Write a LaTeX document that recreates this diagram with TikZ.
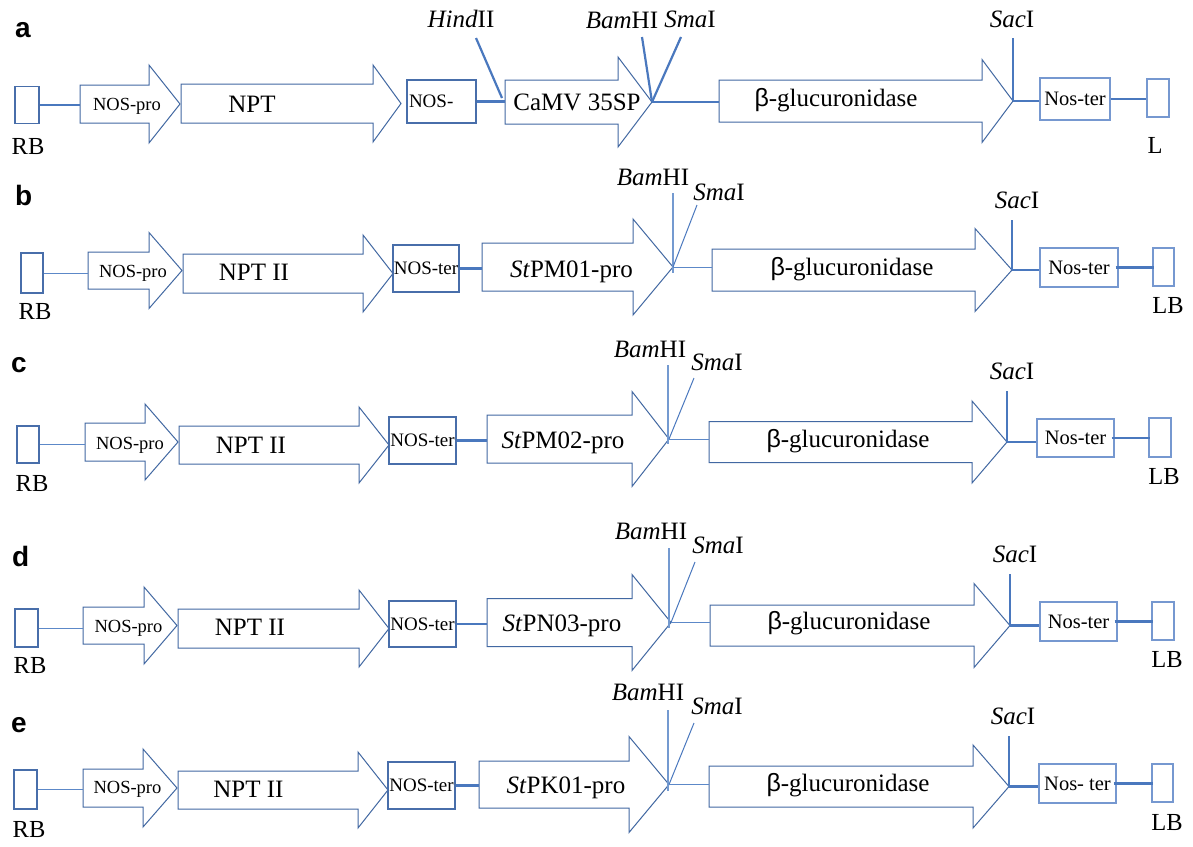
\documentclass[tikz,border=0pt]{standalone}
\usepackage{fontspec}
\setmainfont{Liberation Serif}
\newfontfamily\sansf{Liberation Sans}
\usetikzlibrary{calc}
\definecolor{arrc}{RGB}{66,104,162}
\definecolor{dboxc}{RGB}{72,110,170}
\definecolor{lboxc}{RGB}{118,152,208}
\definecolor{linec}{RGB}{74,120,190}
\definecolor{thinc}{RGB}{92,136,200}
\newcommand\garrow[7]{%
  \draw[arr] (#2,#5-#6) -- (#3,#5-#6) -- (#3,#5-#7) -- (#4,#5) -- (#3,#5+#7) -- (#3,#5+#6) -- (#2,#5+#6) -- cycle;
  \coordinate (#1-w) at (#2,#5);
  \coordinate (#1-tip) at (#4,#5);}
\tikzset{
  arr/.style={draw=arrc, line width=1pt, line join=miter},
  dbox/.style={draw=dboxc, line width=1.1pt, rectangle, inner sep=0pt},
  lbox/.style={draw=lboxc, line width=1.4pt, rectangle, inner sep=0pt},
  thickln/.style={draw=linec, line width=2.2pt},
  thinln/.style={draw=thinc, line width=1pt},
  bamln/.style={draw=thinc!85!white, line width=1.3pt},
  smaln/.style={draw=linec, line width=1pt},
  sacln/.style={draw=linec, line width=1.5pt},
  big/.style={font=\fontsize{25}{29}\selectfont, inner sep=0pt, anchor=base},
  small/.style={font=\fontsize{18.5}{22}\selectfont, inner sep=0pt, anchor=base},
  site/.style={font=\fontsize{25}{29}\selectfont, inner sep=0pt, anchor=base},
  lbl/.style={font=\fontsize{24.5}{28}\selectfont, inner sep=0pt, anchor=base},
  lab/.style={font=\sansf\bfseries\fontsize{28}{32}\selectfont, inner sep=0pt, anchor=base west},
  nosf/.style={font=\fontsize{19}{22}\selectfont},
  nostf/.style={font=\fontsize{20.5}{24}\selectfont},
}
\begin{document}
\begin{tikzpicture}[x=1pt,y=-1pt]
\useasboundingbox (0,0) rectangle (1193,846);
\fill[white] (0,0) rectangle (1193,846);

% ---------------- row a ----------------
\node[lab] (a-lab) at (15,37) {a};
\node[dbox, minimum width=24pt, minimum height=37pt] (a-rb) at (27,105) {};
\node[lbl] (a-rbt) at (28,154) {RB};
\garrow{a-np}{80}{149}{180}{104}{19}{39}
\node[small] (a-npt) at (127,110) {NOS-pro};
\draw[thickln] (a-rb.east) -- (a-rb.east -| a-np-w);
\garrow{a-npt2}{181}{373}{401}{103.5}{19.5}{38.5}
\node[big] (a-nptt) at (252,112) {NPT};
\node[dbox, nosf, minimum width=69pt, minimum height=43pt, text width=65pt, align=left, inner xsep=2pt] (a-nos1) at (441.5,101.5) {NOS-};
\garrow{a-cam}{505}{618}{652}{102}{22}{45}
\draw[thickln] (a-nos1.east) -- (a-nos1.east -| a-cam-w);
\node[big] (a-camt) at (577,110) {CaMV 35SP};
\coordinate (a-hind) at (476,38);
\draw[thickln] (a-hind) -- ($(a-cam-w)+(-3,-4)$);
\node[site] (a-hindt) at (461,27) {\textit{Hind}II};
\coordinate (a-bam) at (642,37);
\coordinate (a-sma) at (681,37);
\draw[thickln] (a-bam) -- (a-cam-tip);
\draw[thickln] (a-sma) -- (a-cam-tip);
\node[site] (a-bamt) at (622,28) {\textit{Bam}HI};
\node[site] (a-smat) at (690,27) {\textit{Sma}I};
\garrow{a-gus}{719}{982}{1013}{101}{21}{41.5}
\draw[thickln] (a-cam-tip) -- (a-cam-tip -| a-gus-w);
\node[big] (a-gust) at (836,106) {{\sansf β}-glucuronidase};
\coordinate (a-sac) at (1013,38);
\draw[thickln] (a-sac) -- (a-gus-tip);
\node[site] (a-sact) at (1012,27) {\textit{Sac}I};
\node[lbox, nostf, minimum width=70pt, minimum height=42pt] (a-nos2) at (1075,99) {Nos-ter};
\draw[thickln] (a-gus-tip) -- (a-gus-tip -| a-nos2.west);
\node[lbox, minimum width=22pt, minimum height=38pt] (a-lb) at (1158,98) {};
\draw[thickln] (a-nos2.east) -- (a-nos2.east -| a-lb.west);
\node[lbl] (a-lbt) at (1155,153) {L};

% ---------------- row b ----------------
\node[lab] (b-lab) at (15,205) {b};
\node[dbox, minimum width=22pt, minimum height=40pt] (b-rb) at (32,273) {};
\node[lbl] (b-rbt) at (35,319) {RB};
\garrow{b-np}{88}{149}{182}{270.5}{18.5}{38}
\node[small] (b-npt) at (133,277) {NOS-pro};
\draw[thinln] (b-rb.east) -- (b-rb.east -| b-np-w);
\garrow{b-npt2}{183}{363}{393}{273.5}{19.5}{38.5}
\node[big] (b-nptt) at (254,280) {NPT II};
\node[dbox, nosf, minimum width=66pt, minimum height=47pt] (b-nt) at (426,268.5) {NOS-ter};
\garrow{b-pro}{482}{633}{673}{267}{24}{48}
\draw[thickln] (b-nt.east) -- (b-nt.east -| b-pro-w);
\node[big] (b-prot) at (571.5,277) {\textit{St}PM01-pro};
\coordinate (b-bam) at (673,193);
\coordinate (b-sma) at (697,205);
\draw[bamln] (b-bam) -- ($(b-bam |- b-pro-tip)+(0,6)$);
\draw[smaln] (b-sma) -- (b-pro-tip);
\node[site] (b-bamt) at (653,185) {\textit{Bam}HI};
\node[site] (b-smat) at (719,200) {\textit{Sma}I};
\garrow{b-gus}{712}{975}{1012}{270}{21}{41.5}
\draw[thinln] (b-pro-tip) -- (b-pro-tip -| b-gus-w);
\node[big] (b-gust) at (852,275) {{\sansf β}-glucuronidase};
\coordinate (b-sac) at (1012,220);
\draw[sacln] (b-sac) -- (b-gus-tip);
\node[site] (b-sact) at (1017,208) {\textit{Sac}I};
\node[lbox, nostf, minimum width=78pt, minimum height=39pt] (b-nos) at (1079,267.5) {Nos-ter};
\draw[thickln] (b-gus-tip) -- (b-gus-tip -| b-nos.west);
\node[lbox, minimum width=21pt, minimum height=38pt] (b-lb) at (1163.5,267) {};
\draw[thickln, shorten >=-2pt, shorten <=-3pt] (b-nos.east) -- (b-nos.east -| b-lb.west);
\node[lbl] (b-lbt) at (1168,313) {LB};

% ---------------- row c ----------------
\node[lab] (c-lab) at (11,372) {c};
\node[dbox, minimum width=22pt, minimum height=37pt] (c-rb) at (28,444.5) {};
\node[lbl] (c-rbt) at (32,491) {RB};
\garrow{c-np}{85}{145}{178}{442}{19}{38}
\node[small] (c-npt) at (130,449) {NOS-pro};
\draw[thinln] (c-rb.east) -- (c-rb.east -| c-np-w);
\garrow{c-npt2}{179}{359}{389}{445}{19}{38}
\node[big] (c-nptt) at (251,453) {NPT II};
\node[dbox, nosf, minimum width=67pt, minimum height=47pt] (c-nt) at (422.5,440.5) {NOS-ter};
\garrow{c-pro}{487}{632}{669}{439}{24}{47.5}
\draw[thickln] (c-nt.east) -- (c-nt.east -| c-pro-w);
\node[big] (c-prot) at (563,448) {\textit{St}PM02-pro};
\coordinate (c-bam) at (668,365);
\coordinate (c-sma) at (694,378);
\draw[bamln] (c-bam) -- ($(c-bam |- c-pro-tip)+(0,5)$);
\draw[smaln] (c-sma) -- (c-pro-tip);
\node[site] (c-bamt) at (650,357) {\textit{Bam}HI};
\node[site] (c-smat) at (717,370) {\textit{Sma}I};
\garrow{c-gus}{709}{972}{1007}{442}{20.5}{41}
\draw[thinln] (c-pro-tip) -- (c-pro-tip -| c-gus-w);
\node[big] (c-gust) at (848,447) {{\sansf β}-glucuronidase};
\coordinate (c-sac) at (1007,391);
\draw[sacln] (c-sac) -- (c-gus-tip);
\node[site] (c-sact) at (1012,379) {\textit{Sac}I};
\node[lbox, nostf, minimum width=77pt, minimum height=38pt] (c-nos) at (1075.5,438) {Nos-ter};
\draw[thickln] (c-gus-tip) -- (c-gus-tip -| c-nos.west);
\node[lbox, minimum width=22pt, minimum height=39pt] (c-lb) at (1160,437.5) {};
\draw[thickln, shorten >=-2pt, shorten <=-3pt] (c-nos.east) -- (c-nos.east -| c-lb.west);
\node[lbl] (c-lbt) at (1164,484) {LB};

% ---------------- row d ----------------
\node[lab] (d-lab) at (12,566) {d};
\node[dbox, minimum width=23pt, minimum height=38pt] (d-rb) at (26.5,628) {};
\node[lbl] (d-rbt) at (30,673) {RB};
\garrow{d-np}{83}{144}{177}{625.5}{18.5}{38.5}
\node[small] (d-npt) at (128.5,632) {NOS-pro};
\draw[thinln] (d-rb.east) -- (d-rb.east -| d-np-w);
\garrow{d-npt2}{178}{359}{389}{628.5}{19.5}{38.5}
\node[big] (d-nptt) at (250,635) {NPT II};
\node[dbox, nosf, minimum width=67pt, minimum height=46pt] (d-nt) at (422.5,624) {NOS-ter};
\garrow{d-pro}{487}{632}{671}{622.5}{24}{48}
\draw[thickln] (d-nt.east) -- (d-nt.east -| d-pro-w);
\node[big] (d-prot) at (562,631) {\textit{St}PN03-pro};
\coordinate (d-bam) at (669,548);
\coordinate (d-sma) at (695,562);
\draw[bamln] (d-bam) -- ($(d-bam |- d-pro-tip)+(0,5)$);
\draw[smaln] (d-sma) -- (d-pro-tip);
\node[site] (d-bamt) at (651,539) {\textit{Bam}HI};
\node[site] (d-smat) at (718,553) {\textit{Sma}I};
\garrow{d-gus}{710}{974}{1010}{625.5}{20.5}{42}
\draw[thinln] (d-pro-tip) -- (d-pro-tip -| d-gus-w);
\node[big] (d-gust) at (849,629) {{\sansf β}-glucuronidase};
\coordinate (d-sac) at (1010,574);
\draw[sacln] (d-sac) -- (d-gus-tip);
\node[site] (d-sact) at (1015,562) {\textit{Sac}I};
\node[lbox, nostf, minimum width=77pt, minimum height=39pt] (d-nos) at (1078.5,621.5) {Nos-ter};
\draw[thickln] (d-gus-tip) -- (d-gus-tip -| d-nos.west);
\node[lbox, minimum width=22pt, minimum height=38pt] (d-lb) at (1163,621) {};
\draw[thickln, shorten >=-2pt, shorten <=-3pt] (d-nos.east) -- (d-nos.east -| d-lb.west);
\node[lbl] (d-lbt) at (1167,667) {LB};

% ---------------- row e ----------------
\node[lab] (e-lab) at (11,732) {e};
\node[dbox, minimum width=23pt, minimum height=39pt] (e-rb) at (25.5,789.5) {};
\node[lbl] (e-rbt) at (29,837) {RB};
\garrow{e-np}{83}{143}{177}{788}{19}{39}
\node[small] (e-npt) at (127.5,793) {NOS-pro};
\draw[thinln] (e-rb.east) -- (e-rb.east -| e-np-w);
\garrow{e-npt2}{178}{358}{388}{790}{19}{38}
\node[big] (e-nptt) at (248.5,797) {NPT II};
\node[dbox, nosf, minimum width=67pt, minimum height=47pt] (e-nt) at (421.5,785.5) {NOS-ter};
\garrow{e-pro}{479}{629}{669}{784.5}{23.5}{48}
\draw[thickln] (e-nt.east) -- (e-nt.east -| e-pro-w);
\node[big] (e-prot) at (566,793) {\textit{St}PK01-pro};
\coordinate (e-bam) at (668,710);
\coordinate (e-sma) at (694,723);
\draw[bamln] (e-bam) -- ($(e-bam |- e-pro-tip)+(0,6)$);
\draw[smaln] (e-sma) -- (e-pro-tip);
\node[site] (e-bamt) at (648,700) {\textit{Bam}HI};
\node[site] (e-smat) at (717,714) {\textit{Sma}I};
\garrow{e-gus}{709}{973}{1009}{786.5}{20.5}{41.5}
\draw[thinln] (e-pro-tip) -- (e-pro-tip -| e-gus-w);
\node[big] (e-gust) at (848,791) {{\sansf β}-glucuronidase};
\coordinate (e-sac) at (1009,736);
\draw[sacln] (e-sac) -- (e-gus-tip);
\node[site] (e-sact) at (1013,724) {\textit{Sac}I};
\node[lbox, nostf, minimum width=77pt, minimum height=39pt] (e-nos) at (1077.5,783.5) {Nos- ter};
\draw[thickln] (e-gus-tip) -- (e-gus-tip -| e-nos.west);
\node[lbox, minimum width=21pt, minimum height=38pt] (e-lb) at (1162.5,783) {};
\draw[thickln, shorten >=-2pt, shorten <=-3pt] (e-nos.east) -- (e-nos.east -| e-lb.west);
\node[lbl] (e-lbt) at (1167,830) {LB};
\end{tikzpicture}
\end{document}
